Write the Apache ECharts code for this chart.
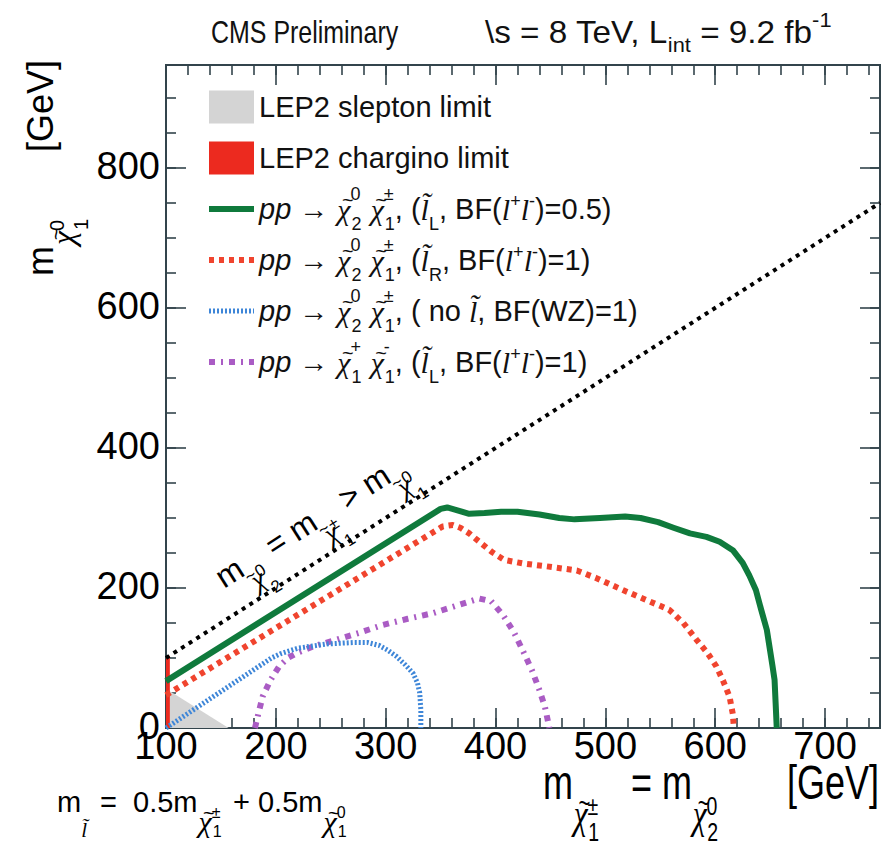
<!DOCTYPE html>
<html>
<head>
<meta charset="utf-8">
<script src="https://cdn.jsdelivr.net/npm/echarts@6/dist/echarts.min.js"></script>
<style>
html,body{margin:0;padding:0;background:#fff;}
#chart{width:883px;height:847px;}
</style>
</head>
<body>
<div id="chart"></div>
<script>
// ---------------- data (GeV) ----------------
const xRange = [100, 750];
const yRange = [0, 947];
const xMajorTicks = [100, 200, 300, 400, 500, 600, 700];
const yMajorTicks = [0, 200, 400, 600, 800];

const sleptonLimit = [[100, 56], [157, 0]];
const charginoLimit = [[100, 100], [103.5, 103.5]];
const kinematicEdge = [[100, 100], [750, 750]];

const sleptonL_BF05 = [[100, 67], [350, 313], [356, 315], [363, 312], [376, 306], [390, 307], [405, 309], [420, 309],
  [440, 305], [458, 300], [472, 298], [495, 300], [518, 302], [532, 300], [548, 294], [562, 286], [577, 278],
  [592, 273], [604, 266], [616, 254], [625, 236], [631, 218], [637, 197], [642, 168], [647, 140], [650, 110],
  [652, 90], [654, 69], [655, 35], [656, 0]];
const sleptonR_BF1 = [[100, 47], [352, 288], [361, 290], [368, 286], [376, 278], [386, 265], [397, 251], [408, 240],
  [425, 235], [446, 231], [474, 225], [492, 214], [516, 197], [537, 183], [558, 169], [571, 150], [583, 126],
  [593, 107], [601, 88], [607, 68], [613, 45], [616, 20], [617, 0]];
const noSlepton_WZ = [[100, 0], [196, 100], [204, 106], [220, 114], [246, 120], [270, 122], [284, 122], [294, 118],
  [302, 111], [310, 102], [318, 90], [325, 78], [329, 64], [331, 50], [332, 25], [332, 0]];
const charginoPair_L = [[181, 0], [184, 20], [188, 45], [195, 68], [203, 88], [211, 100], [219, 107], [235, 117],
  [255, 126], [276, 136], [297, 147], [320, 156], [343, 164], [365, 175], [385, 185], [396, 181], [407, 161],
  [417, 136], [425, 110], [433, 83], [440, 54], [445, 30], [449, 0]];

// ---------------- style ----------------
const SANS = 'Liberation Sans';
const SERIF = 'Liberation Serif';
const FRAME = '#33444c';
const C_GRAY = '#d4d4d4', C_CHARG = '#ec2a1f', C_GREEN = '#0f7a3c', C_RED = '#f0442e',
      C_BLUE = '#3e86d8', C_MAG = '#aa5cc4';
const DASH_KIN = [4, 5], DASH_RED = [5, 5], DASH_BLUE = [2, 2], DASH_MAG = [6, 6, 2, 6];

const N_SLEP = 'LEP2 slepton limit';
const N_CHAR = 'LEP2 chargino limit';
const N_G = 'pp→χ2χ1 (slepton L, BF(ll)=0.5)';
const N_R = 'pp→χ2χ1 (slepton R, BF(ll)=1)';
const N_B = 'pp→χ2χ1 (no slepton, BF(WZ)=1)';
const N_M = 'pp→χ1χ1 (slepton L, BF(ll)=1)';

const TL = '{t|\u00a0~}';
const legendText = {};
legendText[N_SLEP] = '{n|LEP2 slepton limit}{p| }{b| }';
legendText[N_CHAR] = '{n|LEP2 chargino limit}{p| }{b| }';
legendText[N_G] = '{i|pp}{n| → }' + TL + '{c|χ}{p|0}{b|2}{n| }' + TL + '{c|χ}{p|±}{b|1}{n|, (}{c|l̃}{b|L}{n|, BF(}{c|l}{u|+}{c|l}{u|-}{n|)=0.5)}';
legendText[N_R] = '{i|pp}{n| → }' + TL + '{c|χ}{p|0}{b|2}{n| }' + TL + '{c|χ}{p|±}{b|1}{n|, (}{c|l̃}{b|R}{n|, BF(}{c|l}{u|+}{c|l}{u|-}{n|)=1)}';
legendText[N_B] = '{i|pp}{n| → }' + TL + '{c|χ}{p|0}{b|2}{n| }' + TL + '{c|χ}{p|±}{b|1}{n|, ( no }{c|l̃}{n|, BF(WZ)=1)}';
legendText[N_M] = '{i|pp}{n| → }' + TL + '{c|χ}{p|+}{b|1}{n| }' + TL + '{c|χ}{p|-}{b|1}{n|, (}{c|l̃}{b|L}{n|, BF(}{c|l}{u|+}{c|l}{u|-}{n|)=1)}';

function pad(s) { return s >= 0 ? [2 * s, 0, 0, 0] : [0, 0, -2 * s, 0]; }

const LH = 33;
const legendRich = {
  n: {fontSize: 29, fontFamily: SANS, color: '#111', lineHeight: LH},
  i: {fontSize: 29, fontFamily: SANS, fontStyle: 'italic', color: '#111', lineHeight: LH},
  c: {fontSize: 30, fontFamily: SERIF, fontStyle: 'italic', color: '#111', lineHeight: LH},
  t: {fontSize: 20, fontFamily: SANS, color: '#111', lineHeight: LH, padding: pad(-9), width: 1},
  p: {fontSize: 18, fontFamily: SANS, color: '#111', lineHeight: LH, padding: pad(-15), width: 1},
  b: {fontSize: 18, fontFamily: SANS, color: '#111', lineHeight: LH, padding: pad(15)},
  u: {fontSize: 18, fontFamily: SANS, color: '#111', lineHeight: LH, padding: pad(-8)}
};

// rich set for formula-like texts (m with chi subscripts)
function mathRich(o) {
  return {
    m: {fontSize: o.fs, fontFamily: SANS, fill: '#000', lineHeight: o.lh},
    c: {fontSize: o.cf, fontFamily: SERIF, fontStyle: 'italic', fill: '#000', lineHeight: o.lh, padding: pad(o.cShift)},
    t: {fontSize: Math.round(o.cf * 0.65), fontFamily: SANS, fill: '#000', lineHeight: o.lh,
        padding: pad(Math.round(o.cShift - 0.26 * o.cf)), width: 1},
    l: {fontSize: o.lf || o.cf, fontFamily: SERIF, fontStyle: 'italic', fill: '#000', lineHeight: o.lh, padding: pad(o.lShift || 0)},
    p: {fontSize: o.sf, fontFamily: SANS, fill: '#000', lineHeight: o.lh, padding: pad(o.pShift), width: 1},
    b: {fontSize: o.sf, fontFamily: SANS, fill: '#000', lineHeight: o.lh, padding: pad(o.bShift)}
  };
}

function xAxisDef(position, interval, len) {
  return {
    type: 'value', position, min: xRange[0], max: xRange[1], interval,
    axisLine: {show: true, onZero: false, lineStyle: {color: FRAME, width: 2}},
    axisTick: {show: true, inside: true, length: len, lineStyle: {color: FRAME, width: 1.6}},
    axisLabel: {show: false},
    splitLine: {show: false}
  };
}
function yAxisDef(position, interval, len) {
  return {
    type: 'value', position, min: yRange[0], max: yRange[1], interval,
    axisLine: {show: true, onZero: false, lineStyle: {color: FRAME, width: 2}},
    axisTick: {show: true, inside: true, length: len, lineStyle: {color: FRAME, width: 1.6}},
    axisLabel: {show: false},
    splitLine: {show: false}
  };
}

function lineSeries(name, data, color, width, type, z) {
  return {
    name, type: 'line', data, symbol: 'none', silent: true, z, clip: true,
    xAxisIndex: 0, yAxisIndex: 0,
    lineStyle: {color, width, type, cap: 'butt', join: 'round'},
    itemStyle: {color}
  };
}
function areaSeries(name, data, color, z) {
  return {
    name, type: 'line', data, symbol: 'none', silent: true, z, clip: true,
    xAxisIndex: 0, yAxisIndex: 0,
    lineStyle: {width: 0, color},
    areaStyle: {color, opacity: 1},
    itemStyle: {color}
  };
}
const NOSYM = {color: 'rgba(0,0,0,0)', borderWidth: 0, borderColor: 'rgba(0,0,0,0)'};

const chart = echarts.init(document.getElementById('chart'), null, {renderer: 'svg'});
const option = {
  animation: false,
  backgroundColor: '#fff',
  textStyle: {fontFamily: SANS},
  grid: {left: 166, right: 3, top: 65, bottom: 119, containLabel: false},
  xAxis: [
    xAxisDef('bottom', 100, 20),
    xAxisDef('bottom', 20, 10),
    xAxisDef('top', 100, 20),
    xAxisDef('top', 20, 10)
  ],
  yAxis: [
    yAxisDef('left', 200, 20),
    yAxisDef('left', 50, 10),
    yAxisDef('right', 200, 20),
    yAxisDef('right', 50, 10)
  ],
  legend: {
    orient: 'vertical', left: 206, top: 83, padding: 0,
    itemWidth: 45, itemHeight: 33, itemGap: 3,
    selectedMode: false,
    data: [
      {name: N_SLEP, icon: 'rect', itemStyle: {color: C_GRAY, borderWidth: 0}},
      {name: N_CHAR, icon: 'rect', itemStyle: {color: C_CHARG, borderWidth: 0}},
      {name: N_G, itemStyle: NOSYM, lineStyle: {color: C_GREEN, width: 6, type: 'solid'}},
      {name: N_R, itemStyle: NOSYM, lineStyle: {color: C_RED, width: 6, type: DASH_RED}},
      {name: N_B, itemStyle: NOSYM, lineStyle: {color: C_BLUE, width: 5, type: DASH_BLUE}},
      {name: N_M, itemStyle: NOSYM, lineStyle: {color: C_MAG, width: 6, type: DASH_MAG}}
    ],
    formatter: name => legendText[name],
    textStyle: {fontSize: 29, fontFamily: SANS, color: '#111', rich: legendRich}
  },
  series: [
    areaSeries(N_SLEP, sleptonLimit, C_GRAY, 1),
    areaSeries(N_CHAR, charginoLimit, C_CHARG, 2),
    lineSeries('kinematic limit', kinematicEdge, '#000', 4, DASH_KIN, 3),
    lineSeries(N_M, charginoPair_L, C_MAG, 6, DASH_MAG, 4),
    lineSeries(N_B, noSlepton_WZ, C_BLUE, 5, DASH_BLUE, 5),
    lineSeries(N_R, sleptonR_BF1, C_RED, 6, DASH_RED, 6),
    lineSeries(N_G, sleptonL_BF05, C_GREEN, 6, 'solid', 7)
  ]
};
chart.setOption(option);

// ---------------- tick labels and annotations ----------------
const TICK_FS = 38;
const graphics = [];
xMajorTicks.forEach(v => {
  const px = chart.convertToPixel({xAxisIndex: 0}, v);
  graphics.push({type: 'text', x: px, y: 746, silent: true,
    style: {text: String(v), fontSize: TICK_FS, fontFamily: SANS, fill: '#000', align: 'center', verticalAlign: 'middle'}});
});
yMajorTicks.forEach(v => {
  const py = chart.convertToPixel({yAxisIndex: 0}, v);
  graphics.push({type: 'text', x: 160, y: py - 2, silent: true,
    style: {text: String(v), fontSize: TICK_FS, fontFamily: SANS, fill: '#000', align: 'right', verticalAlign: 'middle'}});
});

const xTitleRich = mathRich({fs: 48, cf: 42, cShift: 31, sf: 26, pShift: 23, bShift: 49, lh: 50});
const yTitleRich = mathRich({fs: 36, cf: 32, cShift: 23, sf: 20, pShift: 17, bShift: 41, lh: 40});
const diagRich = mathRich({fs: 32, cf: 28, cShift: 21, sf: 17, pShift: 15, bShift: 37, lh: 40});
const formRich = mathRich({fs: 29, cf: 30, cShift: 19, sf: 16, pShift: 10, bShift: 29, lh: 34, lf: 21, lShift: 28});
const titleRich = {
  t: {fontSize: 32, fontFamily: SANS, fill: '#111', lineHeight: 40},
  b: {fontSize: 21, fontFamily: SANS, fill: '#111', lineHeight: 40, padding: pad(13)},
  u: {fontSize: 21, fontFamily: SANS, fill: '#111', lineHeight: 40, padding: pad(-12)}
};

// title
graphics.push({type: 'text', x: 211, y: 32, scaleX: 0.78, silent: true,
  style: {text: '{t|CMS Preliminary}', rich: titleRich, align: 'left', verticalAlign: 'middle'}});
graphics.push({type: 'text', x: 485, y: 32, scaleX: 1.04, silent: true,
  style: {text: '{t|\\s = 8 TeV, L}{b|int}{t| = 9.2 fb}{u|-1}', rich: titleRich, align: 'left', verticalAlign: 'middle'}});

// x axis title
graphics.push({type: 'text', x: 543, y: 783, scaleX: 0.75, silent: true,
  style: {text: '{m|m}' + TL + '{c|χ}{p|±}{b|1}', rich: xTitleRich, align: 'left', verticalAlign: 'middle'}});
graphics.push({type: 'text', x: 631, y: 783, scaleX: 0.75, silent: true,
  style: {text: '{m|= m}' + TL + '{c|χ}{p|0}{b|2}', rich: xTitleRich, align: 'left', verticalAlign: 'middle'}});
graphics.push({type: 'text', x: 879, y: 783, scaleX: 0.75, silent: true,
  style: {text: '{m|[GeV]}', rich: xTitleRich, align: 'right', verticalAlign: 'middle'}});

// y axis title (rotated)
graphics.push({type: 'text', x: 40, y: 276, rotation: Math.PI / 2, silent: true,
  style: {text: '{m|m}' + TL + '{c|χ}{p|0}{b|1}', rich: yTitleRich, align: 'left', verticalAlign: 'middle'}});
graphics.push({type: 'text', x: 40, y: 60, rotation: Math.PI / 2, silent: true,
  style: {text: '{m|[GeV]}', rich: yTitleRich, align: 'right', verticalAlign: 'middle'}});

// slepton mass relation
graphics.push({type: 'text', x: 57, y: 802, silent: true,
  style: {text: '{m|m}{l|l̃}', rich: formRich, align: 'left', verticalAlign: 'middle'}});
graphics.push({type: 'text', x: 100, y: 802, silent: true,
  style: {text: '{m|=  0.5m}' + TL + '{c|χ}{p|±}{b|1}', rich: formRich, align: 'left', verticalAlign: 'middle'}});
graphics.push({type: 'text', x: 233, y: 802, silent: true,
  style: {text: '{m|+ 0.5m}' + TL + '{c|χ}{p|0}{b|1}', rich: formRich, align: 'left', verticalAlign: 'middle'}});

// diagonal label
const pa = chart.convertToPixel({gridIndex: 0}, kinematicEdge[0]);
const pb = chart.convertToPixel({gridIndex: 0}, kinematicEdge[1]);
const ang = Math.atan2(pa[1] - pb[1], pb[0] - pa[0]);
const pc = chart.convertToPixel({gridIndex: 0}, [252, 252]);
const off = 38;
graphics.push({type: 'text', x: pc[0] - off * Math.sin(ang), y: pc[1] - off * Math.cos(ang), rotation: ang, silent: true,
  style: {text: '{m|m}' + TL + '{c|χ}{p|0}{b|2}{m| = m}' + TL + '{c|χ}{p|±}{b|1}{m| > m}' + TL + '{c|χ}{p|0}{b|1}',
    rich: diagRich, align: 'center', verticalAlign: 'middle'}});

chart.setOption({graphic: graphics});
</script>
</body>
</html>
